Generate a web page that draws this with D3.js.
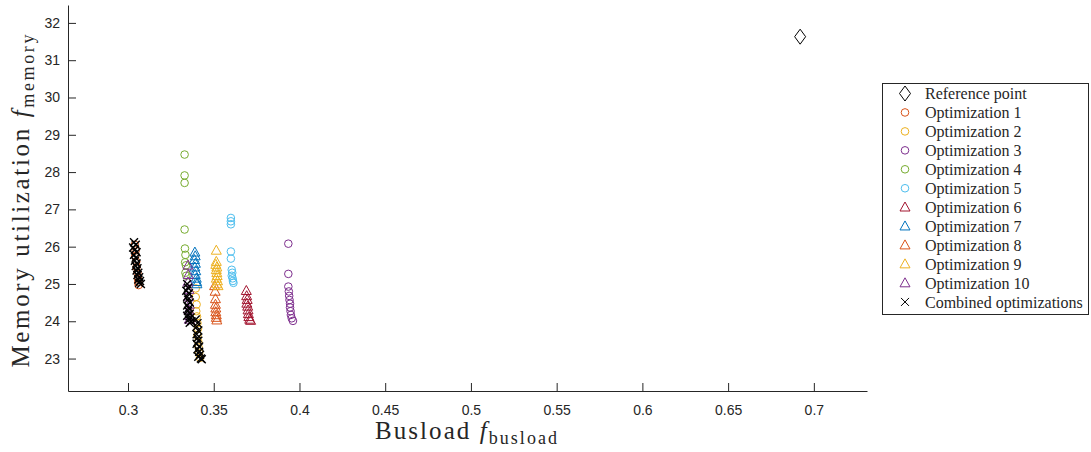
<!DOCTYPE html>
<html>
<head>
<meta charset="utf-8">
<script src="https://cdn.jsdelivr.net/npm/d3@7"></script>
<style>
  body { margin: 0; background: #fff; }
  .tick text { font-family: "Liberation Sans", Arial, sans-serif; font-size: 14px; fill: #262626; }
  .axis path, .axis line { stroke: #262626; }
</style>
</head>
<body>
<div class="chart"></div>
<script>
// values: [busload, memory]
var refPoint = [[0.692, 31.63]];
var opt1 = [[0.3040, 26.05], [0.3045, 25.9], [0.3042, 25.75], [0.3048, 25.6], [0.3050, 25.45], [0.3055, 25.3], [0.3058, 25.15], [0.3060, 25.05], [0.3062, 24.97]];
var opt2 = [[0.3395, 24.88], [0.3395, 24.65], [0.3400, 24.45], [0.3398, 24.27], [0.3402, 24.13], [0.3405, 23.95], [0.3408, 23.8], [0.3405, 23.62], [0.3410, 23.45], [0.3412, 23.3], [0.3415, 23.15], [0.3420, 23.02]];
var opt3 = [[0.3935, 26.08], [0.3935, 25.27], [0.3935, 24.93], [0.3938, 24.8], [0.3940, 24.68], [0.3942, 24.57], [0.3945, 24.47], [0.3945, 24.37], [0.3948, 24.27], [0.3950, 24.17], [0.3955, 24.08], [0.3962, 24.01]];
var opt4 = [[0.3330, 28.47], [0.3330, 27.91], [0.3330, 27.71], [0.3330, 26.46], [0.3332, 25.95], [0.3335, 25.78], [0.3333, 25.58], [0.3338, 25.5], [0.3335, 25.3], [0.3340, 25.22]];
var opt5 = [[0.3600, 26.77], [0.3600, 26.68], [0.3600, 26.6], [0.3600, 25.87], [0.3600, 25.68], [0.3605, 25.38], [0.3608, 25.3], [0.3605, 25.22], [0.3610, 25.15], [0.3612, 25.08], [0.3615, 25.03]];
var opt6 = [[0.3690, 24.82], [0.3692, 24.68], [0.3695, 24.58], [0.3693, 24.48], [0.3698, 24.4], [0.3700, 24.3], [0.3702, 24.2], [0.3705, 24.12], [0.3710, 24.05], [0.3715, 24.02]];
var opt7 = [[0.3390, 25.85], [0.3392, 25.75], [0.3388, 25.65], [0.3393, 25.55], [0.3390, 25.45], [0.3395, 25.35], [0.3392, 25.25], [0.3398, 25.15], [0.3400, 25.06], [0.3402, 25.0]];
var opt8 = [[0.3505, 24.95], [0.3508, 24.8], [0.3510, 24.6], [0.3510, 24.45], [0.3512, 24.35], [0.3512, 24.25], [0.3515, 24.17], [0.3515, 24.1], [0.3518, 24.03]];
var opt9 = [[0.3515, 25.9], [0.3515, 25.6], [0.3512, 25.52], [0.3518, 25.45], [0.3515, 25.38], [0.3518, 25.3], [0.3520, 25.22], [0.3515, 25.15], [0.3522, 25.08], [0.3518, 25.0], [0.3525, 24.95]];
var opt10 = [[0.3350, 25.5], [0.3352, 25.25], [0.3350, 25.05], [0.3355, 24.85], [0.3352, 24.65], [0.3358, 24.45], [0.3355, 24.3], [0.3360, 24.15], [0.3358, 24.05]];
var combined = [
  [0.3035, 26.12], [0.3045, 26.05], [0.3030, 25.98], [0.3040, 25.92], [0.3050, 25.85], [0.3035, 25.78], [0.3045, 25.7],
  [0.3040, 25.62], [0.3050, 25.55], [0.3045, 25.48], [0.3055, 25.42], [0.3050, 25.36], [0.3060, 25.3], [0.3055, 25.24],
  [0.3065, 25.18], [0.3060, 25.12], [0.3070, 25.08], [0.3065, 25.03], [0.3075, 25.0],
  [0.3345, 25.0], [0.3350, 24.9], [0.3340, 24.82], [0.3355, 24.75], [0.3345, 24.66], [0.3350, 24.58], [0.3360, 24.5],
  [0.3345, 24.42], [0.3355, 24.35], [0.3350, 24.28], [0.3360, 24.2], [0.3345, 24.15], [0.3365, 24.1], [0.3355, 24.05],
  [0.3370, 24.0], [0.3360, 23.96],
  [0.3395, 24.05], [0.3405, 23.95], [0.3400, 23.85], [0.3410, 23.75], [0.3400, 23.65], [0.3405, 23.55], [0.3410, 23.48],
  [0.3400, 23.4], [0.3415, 23.32], [0.3405, 23.25], [0.3415, 23.18], [0.3420, 23.1], [0.3410, 23.05], [0.3425, 23.0], [0.3430, 22.98]
];

var seriesNames = ["Reference point", "Optimization 1", "Optimization 2", "Optimization 3", "Optimization 4", "Optimization 5",
  "Optimization 6", "Optimization 7", "Optimization 8", "Optimization 9", "Optimization 10", "Combined optimizations"];
var seriesData = [refPoint, opt1, opt2, opt3, opt4, opt5, opt6, opt7, opt8, opt9, opt10, combined];
var seriesMarkers = ["diamond", "circle", "circle", "circle", "circle", "circle", "triangle", "triangle", "triangle", "triangle", "triangle", "cross"];
var seriesColors = ["#000000", "#D95319", "#EDB120", "#7E2F8E", "#77AC30", "#4DBEEE", "#A2142F", "#0072BD", "#D95319", "#EDB120", "#7E2F8E", "#000000"];

var xTickValues = [0.3, 0.35, 0.4, 0.45, 0.5, 0.55, 0.6, 0.65, 0.7];
var yTickValues = [23, 24, 25, 26, 27, 28, 29, 30, 31, 32];

var svgWidth = 1091;
var svgHeight = 452;

var margin = { top: 5, right: 224, bottom: 61, left: 68 };
var width = svgWidth - margin.left - margin.right;
var height = svgHeight - margin.top - margin.bottom;

var svg = d3.select(".chart")
  .append("svg")
  .attr("width", svgWidth)
  .attr("height", svgHeight);

var chartGroup = svg.append("g")
  .attr("transform", `translate(${margin.left}, ${margin.top})`);

var xScale = d3.scaleLinear()
  .domain([0.265, 0.731])
  .range([0, width]);

var yScale = d3.scaleLinear()
  .domain([22.13, 32.48])
  .range([height, 0]);

// marker shapes (matlab style)
function markerPath(type) {
  if (type === "circle") return d3.symbol().type(d3.symbolCircle).size(Math.PI * 3.8 * 3.8)();
  if (type === "triangle") return "M0,-5.2L5,3.8L-5,3.8Z";
  if (type === "diamond") return "M0,-7.5L5.5,0L0,7.5L-5.5,0Z";
  return "M-4,-4L4,4M-4,4L4,-4";
}

var bottomAxis = d3.axisBottom(xScale)
  .tickValues(xTickValues)
  .tickFormat(d => String(+d.toFixed(2)))
  .tickSizeInner(-8)
  .tickSizeOuter(0)
  .tickPadding(14);

var leftAxis = d3.axisLeft(yScale)
  .tickValues(yTickValues)
  .tickSizeInner(-8)
  .tickSizeOuter(0)
  .tickPadding(8);

chartGroup.append("g")
  .classed("x axis", true)
  .attr("transform", `translate(0, ${height})`)
  .call(bottomAxis);

chartGroup.append("g")
  .classed("y axis", true)
  .call(leftAxis);

// points
seriesData.forEach(function(data, i) {
  chartGroup.append("g")
    .selectAll("path")
    .data(data)
    .enter()
    .append("path")
    .attr("transform", d => `translate(${xScale(d[0])}, ${yScale(d[1])})`)
    .attr("d", markerPath(seriesMarkers[i]))
    .attr("fill", "none")
    .attr("stroke", seriesColors[i])
    .attr("stroke-width", seriesMarkers[i] === "cross" ? 1.4 : 1);
});

// axis labels (serif, stretched a bit to the width of the latex labels)
var xLabel = svg.append("text")
  .attr("x", 466)
  .attr("y", 439)
  .attr("text-anchor", "middle")
  .attr("textLength", 182)
  .attr("lengthAdjust", "spacing")
  .style("font-family", "'Liberation Serif', 'DejaVu Serif', serif")
  .style("font-size", "25px")
  .style("fill", "#262626");
xLabel.append("tspan").text("Busload ");
xLabel.append("tspan").style("font-style", "italic").text("f");
xLabel.append("tspan").attr("dy", 5).style("font-size", "18px").text("busload");

var yLabel = svg.append("text")
  .attr("transform", "translate(29, 201) rotate(-90)")
  .attr("text-anchor", "middle")
  .attr("textLength", 333)
  .attr("lengthAdjust", "spacing")
  .style("font-family", "'Liberation Serif', 'DejaVu Serif', serif")
  .style("font-size", "25px")
  .style("fill", "#262626");
yLabel.append("tspan").text("Memory utilization ");
yLabel.append("tspan").style("font-style", "italic").text("f");
yLabel.append("tspan").attr("dy", 5).style("font-size", "18px").text("memory");

// legend
var legend = svg.append("g")
  .attr("transform", "translate(882, 83)");

legend.append("rect")
  .attr("x", 0.5)
  .attr("y", 0.5)
  .attr("width", 206)
  .attr("height", 231)
  .attr("fill", "#fff")
  .attr("stroke", "#262626")
  .attr("stroke-width", 1);

var legendRows = legend.selectAll(".legendRow")
  .data(seriesNames)
  .enter()
  .append("g")
  .classed("legendRow", true)
  .attr("transform", (d, i) => `translate(0, ${10.5 + i * 18.95})`);

legendRows.append("path")
  .attr("transform", "translate(23, 0)")
  .attr("d", (d, i) => markerPath(seriesMarkers[i]))
  .attr("fill", "none")
  .attr("stroke", (d, i) => seriesColors[i])
  .attr("stroke-width", 1);

legendRows.append("text")
  .attr("x", 43)
  .attr("dy", "0.35em")
  .style("font-family", "'Liberation Serif', 'DejaVu Serif', serif")
  .style("font-size", "16px")
  .style("fill", "#262626")
  .text(d => d);
</script>
</body>
</html>
